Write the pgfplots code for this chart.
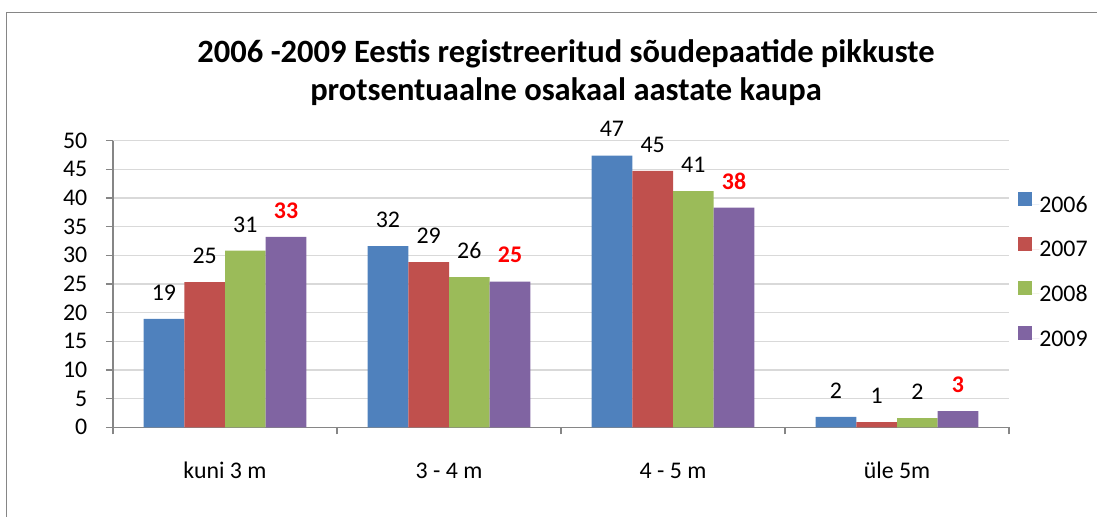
\documentclass[border=0pt]{standalone}
\usepackage{fontspec}
\setmainfont{Carlito}
\usepackage{pgfplots}
\pgfplotsset{compat=1.18}
\definecolor{c2006}{HTML}{4F81BD}
\definecolor{c2007}{HTML}{C0504D}
\definecolor{c2008}{HTML}{9BBB59}
\definecolor{c2009}{HTML}{8064A2}
\definecolor{gridc}{HTML}{D9D9D9}
\definecolor{axc}{HTML}{868686}
\newcommand{\tf}{\fontsize{17.9}{21}\selectfont}
\begin{document}
\begin{tikzpicture}
\useasboundingbox (0pt,0pt) rectangle (822.75pt,387.75pt);
\draw[axc,line width=1.4pt] (4.875pt,0pt) -- (4.875pt,378.4pt) -- (822.75pt,378.4pt);
\node[anchor=base,inner sep=0pt,font=\fontsize{24.4}{28}\selectfont\bfseries] at (424.5pt,340.7pt) {2006 -2009 Eestis registreeritud sõudepaatide pikkuste};
\node[anchor=base,inner sep=0pt,font=\fontsize{24.4}{28}\selectfont\bfseries] at (424.5pt,312.2pt) {protsentuaalne osakaal aastate kaupa};
\begin{axis}[
  at={(84.75pt,67.3pt)}, anchor=south west,
  scale only axis, width=672pt, height=215pt,
  ybar=0pt, bar width=0.1816,
  xmin=-0.5, xmax=3.5, ymin=0, ymax=50,
  ytick={0,5,...,50},
  xtick={0,1,2,3},
  xticklabels={kuni 3 m,3 - 4 m,4 - 5 m,üle 5m},
  minor xtick={-0.5,0.5,1.5,2.5,3.5},
  xtick style={draw=none},
  minor x tick style={draw=axc,line width=1pt},
  ytick style={draw=axc,line width=1pt},
  major tick length=5.25pt, minor tick length=5.25pt,
  tick align=outside,
  axis x line*=bottom, axis y line*=left,
  axis line style={draw=axc,line width=1.1pt,-},
  ymajorgrids, grid style={draw=gridc,line width=1.1pt},
  /pgf/number format/assume math mode=true,
  ticklabel style={font=\tf},
  yticklabel style={anchor=east,inner sep=0pt,xshift=-13.8pt},
  xticklabel style={anchor=base,inner sep=0pt,yshift=-33.4pt},
  clip=false,
  point meta=explicit symbolic,
  nodes near coords,
  every node near coord/.append style={anchor=base,inner sep=0pt,yshift=14pt,font=\tf,text=black},
  legend style={at={(1.0056,0.552)},anchor=west,draw=none,fill=none,
     font=\tf,row sep=18.4pt,
     nodes={inner sep=0pt,text height=11.25pt,text depth=0pt}},
  legend image code/.code={\fill[#1] (0,-1pt) rectangle (10.5pt,9.5pt); \path (0,0) -- (15.75pt,0);},
  legend cell align=left,
]
\addplot[fill=c2006,draw=none] coordinates {(0,18.9) [19] (1,31.6) [32] (2,47.4) [47] (3,1.8) [2]};
\addplot[fill=c2007,draw=none] coordinates {(0,25.3) [25] (1,28.8) [29] (2,44.7) [45] (3,0.9) [1]};
\addplot[fill=c2008,draw=none] coordinates {(0,30.8) [31] (1,26.2) [26] (2,41.2) [41] (3,1.6) [2]};
\addplot[fill=c2009,draw=none,every node near coord/.append style={font=\tf\bfseries,text=red}] coordinates {(0,33.2) [33] (1,25.4) [25] (2,38.3) [38] (3,2.8) [3]};
\legend{2006,2007,2008,2009}
\end{axis}
\end{tikzpicture}
\end{document}
